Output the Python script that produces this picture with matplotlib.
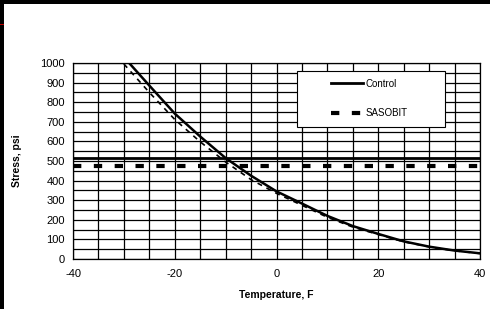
import matplotlib
matplotlib.use('Agg')

import matplotlib.pyplot as plt
from matplotlib.patches import Rectangle

plt.rcParams['font.family'] = ['Liberation Sans', 'DejaVu Sans']
plt.rcParams['axes.unicode_minus'] = False

# data
temp = [-30, -25, -20, -15, -10, -5, 0, 5, 10, 15, 20, 25, 30, 35, 40]
control = [1030, 885, 742, 625, 515, 425, 345, 283, 220, 168, 128, 90, 63, 43, 29]
sasobit = [995, 850, 712, 598, 495, 405, 335, 274, 213, 163, 125, 88, 62, 42, 28]
control_limit = 517
sasobit_limit = 473

fig = plt.figure(figsize=(4.9, 3.09), dpi=100, facecolor='black')
# white page with black strips at top and left
fig.patches.append(Rectangle((4/490, 0), 1, (309-4)/309, transform=fig.transFigure,
                             facecolor='white', edgecolor='none', zorder=-10))
fig.patches.append(Rectangle((0, (309-25)/309), 4/490, 1.5/309, transform=fig.transFigure,
                             facecolor='#c00000', edgecolor='none', zorder=-10))

ax = fig.add_axes([73/490, (309-259)/309, 407/490, 196/309])

# grid every 5 F and 50 psi
for t in range(-40, 41, 5):
  ax.axvline(t, color='black', lw=0.9, zorder=1)
for s in range(0, 1001, 50):
  ax.axhline(s, color='black', lw=0.9, zorder=1)

ax.plot(temp, sasobit, color='black', lw=1.2, ls=(0, (3, 3)), zorder=3)
ax.plot(temp, control, color='black', lw=1.8, zorder=4)
ax.axhline(control_limit, color='black', lw=2, zorder=3, label='Control')
ax.axhline(sasobit_limit, color='black', lw=3, ls=(0, (2, 3)), zorder=3, label='SASOBIT')

ax.set_xlim(-40, 40)
ax.set_ylim(0, 1000)
ax.set_xticks(range(-40, 41, 20))
ax.set_yticks(range(0, 1001, 100))
ax.tick_params(length=0, labelsize=8, pad=7)
ax.tick_params(axis='y', pad=6)
for sp in ax.spines.values():
  sp.set_linewidth(0.9)

ax.set_xlabel('Temperature, F', fontsize=7.5, fontweight='bold', labelpad=8)
ax.set_ylabel('Stress, psi', fontsize=7.5, fontweight='bold', labelpad=13)

# legend box drawn separately, entries placed inside it
ax.add_patch(Rectangle((0.550, 0.673), 0.364, 0.286, transform=ax.transAxes,
                       facecolor='white', edgecolor='black', lw=0.8, zorder=9))
leg = ax.legend(loc='upper left', bbox_to_anchor=(0.634, 0.92), fontsize=7,
                frameon=False, handlelength=3.3, handletextpad=0.2,
                labelspacing=2.0, borderpad=0, borderaxespad=0)
leg.set_zorder(10)

plt.savefig('out.png', dpi=100, facecolor='black')
